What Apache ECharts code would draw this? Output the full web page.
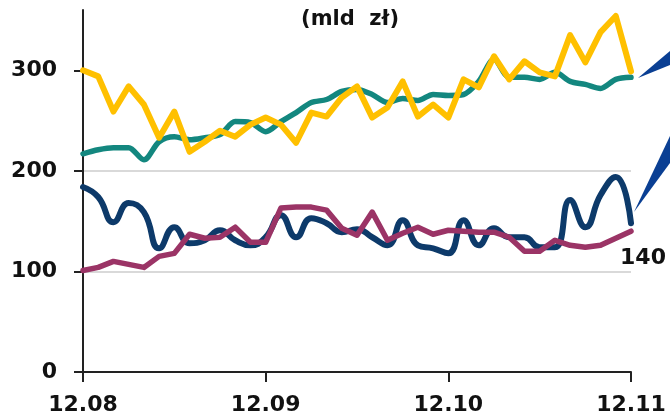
<!DOCTYPE html>
<html>
<head>
<meta charset="utf-8">
<script src="https://cdn.jsdelivr.net/npm/echarts@6/dist/echarts.min.js"></script>
<style>
html,body{margin:0;padding:0;background:#fff;}
#c{width:670px;height:419px;}
</style>
</head>
<body>
<div id="c"></div>
<script>
const monthLabels = ['12.08', '12.09', '12.10', '12.11'];
const pointsPerMonth = 12;
const yTicks = [0, 100, 200, 300];

const yellowValues = [300, 294, 259, 284, 266, 233, 259, 219, 229, 240,
  234, 246, 253, 246, 228, 258, 254, 273, 284, 253,
  263, 289, 254, 266, 253, 291, 283, 314, 291, 309,
  298, 294, 335, 308, 338, 354, 299];
const tealValues = [217, 221, 223, 223, 211, 229, 234, 231, 233, 236,
  249, 248, 239, 249, 258, 268, 271, 279, 281, 276,
  268, 272, 270, 276, 275, 276, 289, 311, 293, 293,
  291, 298, 289, 286, 282, 291, 293];
const navyValues = [184, 174, 149, 168, 159, 123, 144, 128, 131, 141,
  131, 126, 134, 156, 134, 153, 148, 139, 142, 134,
  126, 151, 126, 123, 118, 151, 126, 143, 134, 134,
  124, 124, 171, 144, 176, 194, 148];
const purpleValues = [101, 104, 110, 107, 104, 115, 118, 137, 133, 134,
  144, 129, 129, 163, 164, 164, 161, 143, 136, 159,
  131, 138, 144, 137, 141, 140, 139, 139, 134, 120,
  120, 131, 126, 124, 126, 133, 140];

const categories = [];
monthLabels.forEach((m, mi) => {
  const n = mi < monthLabels.length - 1 ? pointsPerMonth : 1;
  for (let k = 0; k < n; k++) categories.push(k === 0 ? m : m + '#' + k);
});

const chart = echarts.init(document.getElementById('c'), null, {renderer: 'canvas'});
const font = '"DejaVu Sans", Verdana, sans-serif';
const isMonth = (idx) => idx % pointsPerMonth === 0;
const lastIdx = purpleValues.length - 1;

chart.setOption({
  animation: false,
  backgroundColor: '#fff',
  title: {
    text: '(mld  zł)', left: 345, top: 4, textAlign: 'center',
    textStyle: {fontFamily: font, fontWeight: 'bold', fontSize: 21, color: '#111'}
  },
  grid: {left: 83, right: 39, top: 10, bottom: 47, containLabel: false},
  xAxis: {
    type: 'category', data: categories, boundaryGap: false,
    axisLine: {lineStyle: {color: '#222', width: 2}},
    axisTick: {show: true, interval: (idx) => isMonth(idx), length: 10, lineStyle: {color: '#222', width: 2}},
    axisLabel: {
      interval: (idx) => isMonth(idx), margin: 22,
      formatter: (v) => v.split('#')[0],
      color: '#111', fontFamily: font, fontWeight: 'bold', fontSize: 22
    },
    splitLine: {show: false}
  },
  yAxis: {
    type: 'value', min: 0, max: 360, interval: 100,
    axisLine: {show: true, lineStyle: {color: '#222', width: 2}},
    axisTick: {show: true, length: 9, customValues: yTicks, lineStyle: {color: '#222', width: 2}},
    axisLabel: {customValues: yTicks, margin: 26, color: '#111', fontFamily: font, fontWeight: 'bold', fontSize: 22},
    splitLine: {show: true, showMinLine: false, showMaxLine: false, lineStyle: {color: '#d9d9d9', width: 2}}
  },
  series: [
    {type: 'line', data: tealValues, symbol: 'none', smooth: 0.3,
      lineStyle: {color: '#13877f', width: 5.5, join: 'round', cap: 'round'}, z: 2},
    {type: 'line', data: navyValues, symbol: 'none', smooth: 0.5,
      lineStyle: {color: '#0d3a6a', width: 6, join: 'round', cap: 'round'}, z: 2},
    {type: 'line', data: yellowValues, symbol: 'none', smooth: false,
      lineStyle: {color: '#ffc000', width: 6, join: 'round', cap: 'round'}, z: 3},
    {type: 'line', data: purpleValues, symbol: 'none', smooth: false,
      lineStyle: {color: '#9b3466', width: 5.5, join: 'round', cap: 'round'}, z: 4,
      markPoint: {
        symbol: 'circle', symbolSize: 1, itemStyle: {color: 'rgba(0,0,0,0)'},
        data: [{coord: [categories[lastIdx], purpleValues[lastIdx]], value: purpleValues[lastIdx]}],
        label: {
          show: true, position: 'bottom', distance: 16, offset: [12, 0], formatter: '{c}',
          color: '#111', fontFamily: font, fontWeight: 'bold', fontSize: 22
        }
      }}
  ],
  graphic: [
    {type: 'polygon', shape: {points: [[638, 78], [670, 51], [670, 65]]}, style: {fill: '#0a3f93'}},
    {type: 'polygon', shape: {points: [[634, 212], [670, 136], [670, 163]]}, style: {fill: '#0a3f93'}}
  ]
});
</script>
</body>
</html>
